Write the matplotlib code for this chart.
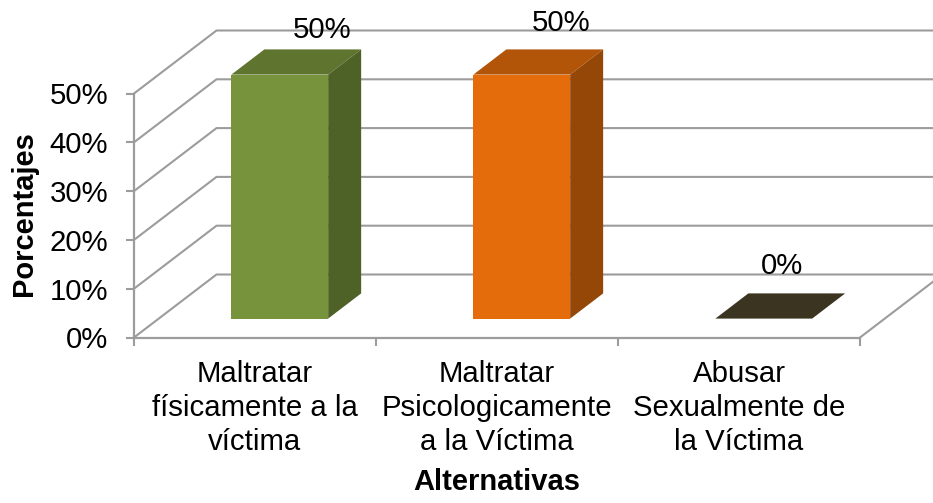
"""Barras 3D falsas: maltrato a la victima, porcentajes por alternativa."""
import matplotlib
matplotlib.use("Agg")
import matplotlib.pyplot as plt
from matplotlib.patches import Polygon

W, H = 933, 503

categories = ["Maltratar\nfísicamente a la\nvíctima",
              "Maltratar\nPsicologicamente\na la Víctima",
              "Abusar\nSexualmente de\nla Víctima"]
values = [50, 50, 0]
value_labels = ["50%", "50%", "0%"]
y_ticks = [0, 10, 20, 30, 40, 50]
y_tick_labels = ["0%", "10%", "20%", "30%", "40%", "50%"]

# label nudges in px, the originals were moved by hand
label_offsets = [(42, 45), (39, 52), (18, 53)]

FRONT = ["#77933C", "#E46C0A", "#3B3420"]
TOP = ["#5F752F", "#B25508", "#3B3420"]
SIDE = ["#4E6127", "#944707", "#3B3420"]
GRID = "#9C9C9C"
FS = 21.2

BAR_W = 0.4
DEPTH_X = 82.5 / 242   # category units for the full floor depth
DEPTH_Y = 63 / 4.88    # percent units for the full floor depth
D0, D1 = 0.3, 0.7      # bar front and back inside the floor depth

plt.rcParams["font.family"] = ["Liberation Sans", "DejaVu Sans"]


def proj(x, y, d):
    """Oblique projection: depth d (0..1) shifts a point up and to the right."""
    return (x + d * DEPTH_X, y + d * DEPTH_Y)


fig = plt.figure(figsize=(W / 100, H / 100), dpi=100)
ax = fig.add_axes([134 / W, (H - 337.5) / H, 726 / W, 244 / H])
ax.set_xlim(0, len(categories))
ax.set_ylim(0, 50)

# walls and floor
for t in y_ticks:
    xs, ys = zip(proj(0, t, 0), proj(0, t, 1), proj(len(categories), t, 1))
    ax.plot(xs, ys, color=GRID, lw=1.5, clip_on=False, zorder=1)
xs, ys = zip(proj(len(categories), 0, 0), proj(len(categories), 0, 1))
ax.plot(xs, ys, color=GRID, lw=1.5, clip_on=False, zorder=1)

# bars
for i, v in enumerate(values):
    x0, x1 = i + 0.5 - BAR_W / 2, i + 0.5 + BAR_W / 2
    faces = [
        ([proj(x0, 0, D0), proj(x1, 0, D0), proj(x1, v, D0), proj(x0, v, D0)], FRONT[i]),
        ([proj(x0, v, D0), proj(x1, v, D0), proj(x1, v, D1), proj(x0, v, D1)], TOP[i]),
        ([proj(x1, 0, D0), proj(x1, 0, D1), proj(x1, v, D1), proj(x1, v, D0)], SIDE[i]),
    ]
    for pts, c in faces:
        ax.add_patch(Polygon(pts, closed=True, facecolor=c, edgecolor="none",
                             clip_on=False, zorder=3))
    ax.annotate(value_labels[i], xy=proj(i + 0.5, v, D0), xytext=label_offsets[i],
                textcoords="offset pixels", ha="center", va="center",
                fontsize=FS, color="black", annotation_clip=False, zorder=5)

# axes
for side in ("top", "right"):
    ax.spines[side].set_visible(False)
for side in ("left", "bottom"):
    ax.spines[side].set_color(GRID)
    ax.spines[side].set_linewidth(1.6)
ax.patch.set_alpha(0)

ax.set_yticks(y_ticks)
ax.set_yticklabels(y_tick_labels, fontsize=FS)
ax.set_xticks(range(len(categories) + 1))
ax.set_xticklabels([])
ax.set_xticks([i + 0.5 for i in range(len(categories))], minor=True)
ax.set_xticklabels(categories, minor=True, fontsize=FS, linespacing=1.27)
ax.tick_params(axis="y", length=6, width=1.5, color=GRID, pad=12.5)
ax.tick_params(axis="x", which="major", length=6, width=1.5, color=GRID)
ax.tick_params(axis="x", which="minor", length=0, pad=16)

fig.text(496.5 / W, 1 - 482 / H, "Alternativas", ha="center", va="center",
         fontsize=21, fontweight="bold")
fig.text(24 / W, 1 - 214 / H, "Porcentajes", ha="center", va="center",
         rotation=90, fontsize=21, fontweight="bold")

fig.savefig("out.png", dpi=100, facecolor="white")
